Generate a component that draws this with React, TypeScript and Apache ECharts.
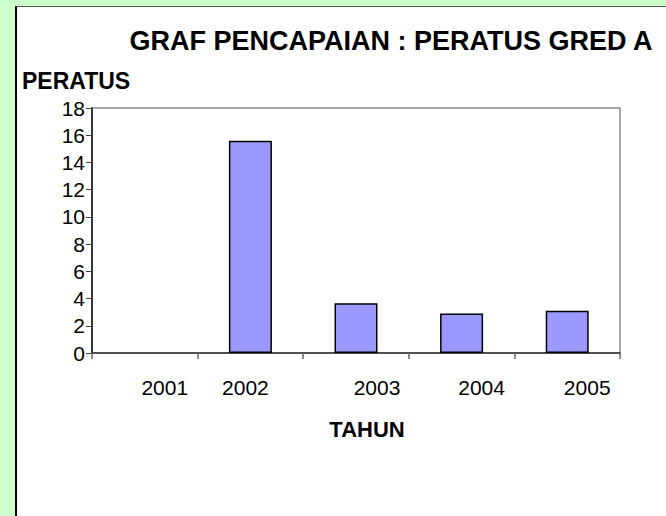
import React, { useEffect, useRef } from "react";
import * as echarts from "echarts";

const categories = ["2001", "2002", "2003", "2004", "2005"];
const values = [0, 15.6, 3.65, 2.9, 3.1];
const yMin = 0;
const yMax = 18;
const yInterval = 2;
const titleText = "GRAF PENCAPAIAN : PERATUS GRED A";
const yName = "PERATUS";
const xName = "TAHUN";

const FONT = "'Liberation Sans', Arial, Helvetica, sans-serif";
// horizontal nudge of each category label (px), as in the original
const labelShift = [20, -5, 21, 20, 20];

export default function App() {
  const ref = useRef<HTMLDivElement>(null);

  useEffect(() => {
    if (!ref.current) return;
    const chart = echarts.init(ref.current, undefined, { renderer: "svg" });
    const rich: Record<string, any> = {};
    labelShift.forEach((s, i) => {
      rich["s" + i] = {
        fontSize: 21,
        fontFamily: FONT,
        color: "#000",
        padding: s >= 0 ? [0, 0, 0, 2 * s] : [0, -2 * s, 0, 0],
      };
    });
    const barData = values.map((v) => ({
      value: v,
      itemStyle: v === 0 ? { borderWidth: 0 } : undefined,
    }));
    chart.setOption({
      animation: false,
      backgroundColor: "transparent",
      grid: {
        left: 92,
        right: 46,
        top: 108,
        bottom: 163,
        show: true,
        borderColor: "#8a8a8a",
        borderWidth: 1.5,
        backgroundColor: "#fff",
      },
      graphic: [
        {
          type: "text",
          x: 391,
          y: 41,
          style: {
            text: titleText,
            fontSize: 27,
            fontWeight: "bold",
            fontFamily: FONT,
            fill: "#000",
            align: "center",
            verticalAlign: "middle",
          },
        },
        {
          type: "text",
          x: 22,
          y: 81,
          style: {
            text: yName,
            fontSize: 23,
            fontWeight: "bold",
            fontFamily: FONT,
            fill: "#000",
            align: "left",
            verticalAlign: "middle",
          },
        },
        {
          type: "text",
          x: 367,
          y: 429,
          style: {
            text: xName,
            fontSize: 22,
            fontWeight: "bold",
            fontFamily: FONT,
            fill: "#000",
            align: "center",
            verticalAlign: "middle",
          },
        },
      ],
      xAxis: {
        type: "category",
        data: categories,
        boundaryGap: true,
        axisLine: { show: true, lineStyle: { color: "#333", width: 1.5 } },
        axisTick: { show: true, length: 6, lineStyle: { color: "#666", width: 1.5 } },
        axisLabel: {
          margin: 24,
          fontSize: 21,
          fontFamily: FONT,
          color: "#000",
          interval: 0,
          formatter: (v: string, i: number) => `{s${i}|${v}}`,
          rich,
        },
        splitLine: { show: false },
      },
      yAxis: {
        type: "value",
        min: yMin,
        max: yMax,
        interval: yInterval,
        axisLine: { show: true, lineStyle: { color: "#111", width: 1.5 } },
        axisTick: { show: true, length: 6, lineStyle: { color: "#444", width: 1 } },
        axisLabel: {
          margin: 7,
          fontSize: 21,
          fontFamily: FONT,
          color: "#000",
        },
        splitLine: { show: false },
      },
      series: [
        {
          type: "bar",
          data: barData,
          barWidth: 43,
          itemStyle: {
            color: "#9999FF",
            borderColor: "#000",
            borderWidth: 1.5,
          },
        },
      ],
    });
    return () => chart.dispose();
  }, []);

  return (
    <div
      style={{
        position: "fixed",
        left: 0,
        top: 0,
        width: 666,
        height: 516,
        background: "#CCFFCC",
        overflow: "hidden",
      }}
    >
      <div
        style={{
          position: "absolute",
          left: 15,
          top: 6,
          right: 0,
          bottom: 0,
          background: "#fff",
          borderLeft: "2px solid #000",
          borderTop: "1px solid #555",
        }}
      />
      <div
        ref={ref}
        style={{ position: "absolute", left: 0, top: 0, width: 666, height: 516 }}
      />
    </div>
  );
}
